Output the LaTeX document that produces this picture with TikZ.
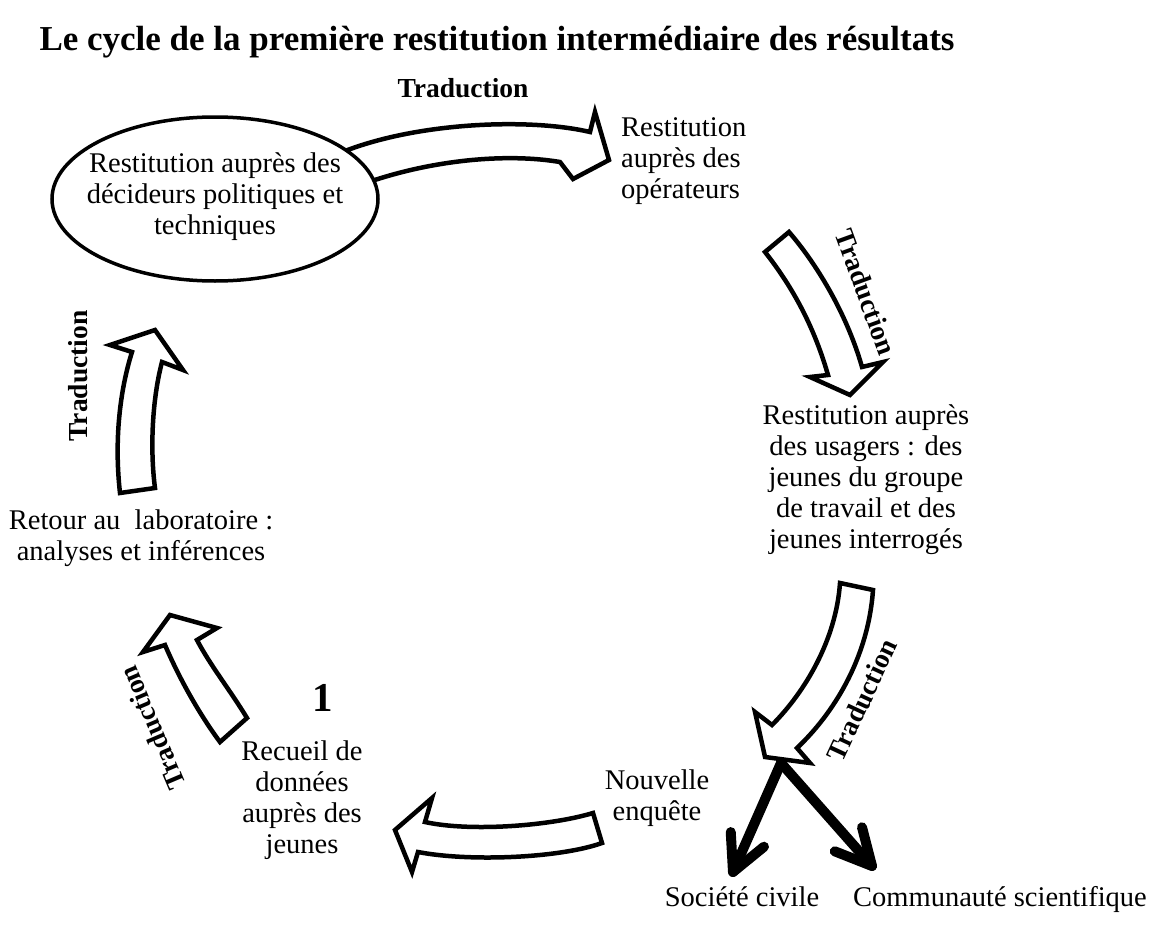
\documentclass[tikz,border=0pt]{standalone}
\usepackage{fontspec}
\setmainfont{Liberation Serif}
\usetikzlibrary{shapes.geometric,calc}
\tikzset{
  lbl/.style={font=\fontsize{28.5}{31}\selectfont,align=center,inner sep=0pt},
  trad/.style={font=\fontsize{27.5}{30}\selectfont\bfseries,inner sep=0pt},
  bubble/.style={ellipse,draw=black,line width=3.5pt,fill=white,inner sep=0pt,
    minimum width=326pt,minimum height=164pt},
  bigarr/.style={draw=black,line width=4.5pt,fill=white,line join=miter},
  outarr/.style={line width=10pt,line cap=round,line join=round},
}
\begin{document}
\begin{tikzpicture}[x=1pt,y=-1pt]
  \useasboundingbox (0,0) rectangle (1157,926);
  \node[font=\fontsize{35}{40}\selectfont\bfseries] (title) at (497,42)
    {Le cycle de la première restitution intermédiaire des résultats};

  % block arrows of the cycle
  \draw[bigarr] (345,151) .. controls (420,122) and (530,118) .. (590,132) -- (595,112)
    -- (609,160) -- (573,179) -- (560,162) .. controls (500,152) and (420,162) .. (355,187) -- cycle;
  \node[bubble] (decid) at (215,199) {};
  \node[lbl] (decidtxt) at (215,197) {Restitution auprès des\\décideurs politiques et\\techniques};
  \draw[bigarr] (789,232) .. controls (820,268) and (848,318) .. (862,367) -- (883,362)
    -- (850,395) -- (810,377) -- (828,375) .. controls (815,330) and (795,290) .. (765,252) -- cycle;

  % the two outputs
  \coordinate (split) at (781,763);
  \coordinate (socTip) at (733,872);
  \coordinate (comTip) at (872,866);
  \foreach \t in {socTip,comTip}{
    \draw[outarr] (split) -- (\t);
    \draw[outarr] ($(\t)!40pt!27:(split)$) -- (\t) -- ($(\t)!40pt!-27:(split)$);
  }

  \draw[bigarr] (873,590) .. controls (868,660) and (832,715) .. (797,748) -- (810,763)
    -- (765,757) -- (755,712) -- (772,725) .. controls (805,692) and (836,640) .. (840,583) -- cycle;
  \draw[bigarr] (593,813) .. controls (550,826) and (470,832) .. (425,822) -- (432,798)
    -- (395,830) -- (412,872) -- (418,852) .. controls (470,862) and (560,858) .. (602,843) -- cycle;
  \draw[bigarr] (220,742) -- (247,718) .. controls (230,690) and (210,665) .. (197,640) -- (217,628)
    -- (170,615) -- (143,652) -- (165,645) .. controls (180,680) and (200,715) .. (220,742) -- cycle;
  \draw[bigarr] (120,493) .. controls (114,440) and (120,390) .. (132,352) -- (110,345)
    -- (155,330) -- (183,370) -- (162,362) .. controls (152,400) and (150,450) .. (155,488) -- cycle;

  % labels
  \foreach \i/\x/\y/\a in {1/463/88/0,2/866/292/-70,3/862/700/65,4/152/728/113,5/78/376/90}{
    \node[trad,rotate=\a] (trad\i) at (\x,\y) {Traduction};
  }
  \node[lbl,align=left,anchor=west] (oper) at (621,161) {Restitution\\auprès des\\opérateurs};
  \node[lbl] (usag) at (866,480)
    {Restitution auprès\\des usagers : des\\jeunes du groupe\\de travail et des\\jeunes interrogés};
  \node[lbl] (enq) at (657,798) {Nouvelle\\enquête};
  \node[lbl,anchor=base] (soc) at (742,906) {Société civile};
  \node[lbl,anchor=base] (com) at (1000,906) {Communauté scientifique};
  \node[lbl] (recueil) at (302,800) {Recueil de\\données\\auprès des\\jeunes};
  \node[font=\fontsize{41}{45}\selectfont\bfseries] (one) at (323,698) {1};
  \node[lbl] (labo) at (141,538) {Retour au~ laboratoire :\\analyses et inférences};
\end{tikzpicture}
\end{document}
